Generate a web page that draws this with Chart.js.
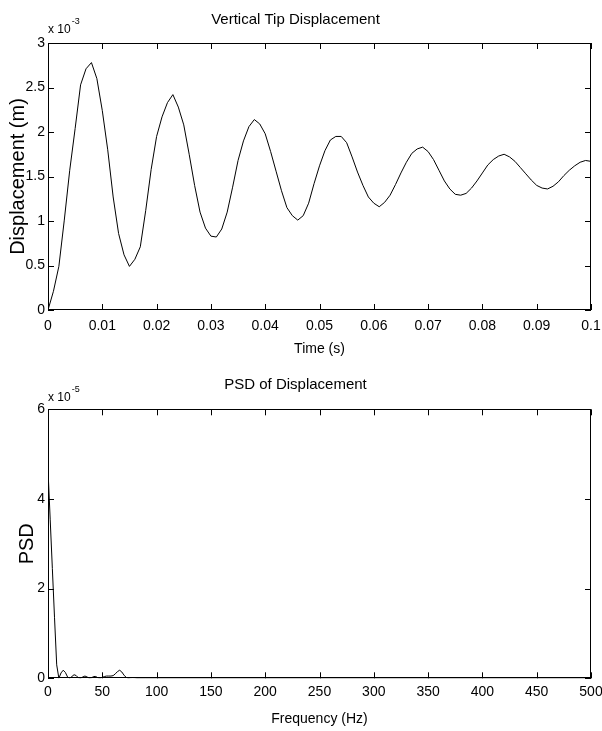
<!DOCTYPE html>
<html>
<head>
<meta charset="utf-8">
<script src="https://cdn.jsdelivr.net/npm/chart.js@4.4.1/dist/chart.umd.min.js"></script>
<style>
  html, body { margin: 0; padding: 0; background: #fff; }
  #wrap { position: relative; width: 602px; height: 731px; }
  canvas { position: absolute; left: 0; }
</style>
</head>
<body>
<div id="wrap">
  <canvas id="dispChart" width="602" height="365" style="top:0"></canvas>
  <canvas id="psdChart" width="602" height="366" style="top:365px"></canvas>
</div>
<script>
// time axis (s)
const timeS = [
  0, 0.001, 0.002, 0.003, 0.004, 0.005, 0.006, 0.007, 0.008, 0.009,
  0.010, 0.011, 0.012, 0.013, 0.014, 0.015, 0.016, 0.017, 0.018, 0.019,
  0.020, 0.021, 0.022, 0.023, 0.024, 0.025, 0.026, 0.027, 0.028, 0.029,
  0.030, 0.031, 0.032, 0.033, 0.034, 0.035, 0.036, 0.037, 0.038, 0.039,
  0.040, 0.041, 0.042, 0.043, 0.044, 0.045, 0.046, 0.047, 0.048, 0.049,
  0.050, 0.051, 0.052, 0.053, 0.054, 0.055, 0.056, 0.057, 0.058, 0.059,
  0.060, 0.061, 0.062, 0.063, 0.064, 0.065, 0.066, 0.067, 0.068, 0.069,
  0.070, 0.071, 0.072, 0.073, 0.074, 0.075, 0.076, 0.077, 0.078, 0.079,
  0.080, 0.081, 0.082, 0.083, 0.084, 0.085, 0.086, 0.087, 0.088, 0.089,
  0.090, 0.091, 0.092, 0.093, 0.094, 0.095, 0.096, 0.097, 0.098, 0.099,
  0.100
];
// vertical tip displacement, in units of 1e-3 m
const tipDisp = [
  0, 0.21, 0.49, 1.01, 1.57, 2.04, 2.53, 2.71, 2.78, 2.60,
  2.24, 1.80, 1.27, 0.86, 0.62, 0.49, 0.57, 0.71, 1.12, 1.58,
  1.95, 2.17, 2.33, 2.42, 2.28, 2.08, 1.75, 1.40, 1.10, 0.92,
  0.83, 0.82, 0.91, 1.10, 1.38, 1.68, 1.90, 2.06, 2.14, 2.09,
  1.98, 1.78, 1.56, 1.34, 1.15, 1.06, 1.01, 1.06, 1.20, 1.42,
  1.62, 1.79, 1.91, 1.95, 1.95, 1.88, 1.72, 1.55, 1.40, 1.27,
  1.20, 1.16, 1.21, 1.29, 1.41, 1.54, 1.66, 1.76, 1.81, 1.83,
  1.78, 1.69, 1.57, 1.45, 1.36, 1.30, 1.29, 1.31, 1.37, 1.45,
  1.54, 1.63, 1.69, 1.73, 1.75, 1.72, 1.67, 1.60, 1.53, 1.46,
  1.40, 1.37, 1.36, 1.39, 1.44, 1.51, 1.57, 1.62, 1.66, 1.68,
  1.67
];

// frequency axis (Hz)
const freqHz = [
  0, 2, 4, 6, 8, 10, 12, 14, 16, 18, 20, 22, 24, 26, 28, 30, 32, 34, 36, 38,
  40, 42, 44, 46, 48, 50, 52, 54, 56, 58, 60, 62, 64, 66, 68, 70, 72, 74, 76, 78,
  80, 82, 84, 90, 100, 150, 200, 250, 300, 350, 400, 450, 500
];
// PSD of displacement, in units of 1e-5
const psdVal = [
  4.65, 3.55, 2.45, 1.35, 0.30, 0.00, 0.12, 0.18, 0.13, 0.03, 0.00, 0.04, 0.08, 0.06, 0.01, 0.00, 0.03, 0.05, 0.03, 0.00,
  0.01, 0.04, 0.04, 0.01, 0.00, 0.02, 0.04, 0.05, 0.05, 0.05, 0.06, 0.10, 0.15, 0.18, 0.14, 0.07, 0.02, 0.00, 0.01, 0.015,
  0.01, 0.00, 0.00, 0.00, 0.00, 0.00, 0.00, 0.00, 0.00, 0.00, 0.00, 0.00, 0.00
];

const timeTicks = ['0', '0.01', '0.02', '0.03', '0.04', '0.05', '0.06', '0.07', '0.08', '0.09', '0.1'];
const dispTicks = ['0', '0.5', '1', '1.5', '2', '2.5', '3'];
const freqTicks = ['0', '50', '100', '150', '200', '250', '300', '350', '400', '450', '500'];
const psdTicks = ['0', '2', '4', '6'];

const FONT = '"Liberation Sans", Arial, Helvetica, sans-serif';

// matlab-ish box with inward ticks + "x 10^n" exponent
const boxTicks = {
  id: 'boxTicks',
  afterDraw(chart, args, opts) {
    const { ctx, chartArea: a, scales: { x, y } } = chart;
    const len = 6;
    ctx.save();
    ctx.strokeStyle = '#000';
    ctx.lineWidth = 1;
    ctx.beginPath();
    x.ticks.forEach(t => {
      const px = Math.round(x.getPixelForValue(t.value)) + 0.5;
      ctx.moveTo(px, a.bottom); ctx.lineTo(px, a.bottom - len);
      ctx.moveTo(px, a.top); ctx.lineTo(px, a.top + len);
    });
    y.ticks.forEach(t => {
      const py = Math.round(y.getPixelForValue(t.value)) + 0.5;
      ctx.moveTo(a.left, py); ctx.lineTo(a.left + len, py);
      ctx.moveTo(a.right, py); ctx.lineTo(a.right - len, py);
    });
    ctx.stroke();
    ctx.strokeRect(Math.round(a.left) + 0.5, Math.round(a.top) + 0.5,
                   Math.round(a.width) - 1, Math.round(a.height) - 1);

    ctx.fillStyle = '#000';
    ctx.textAlign = 'left';
    ctx.textBaseline = 'alphabetic';
    ctx.font = '12px ' + FONT;
    ctx.fillText('x 10', a.left, a.top - opts.base);
    const w = ctx.measureText('x 10').width;
    ctx.font = '9px ' + FONT;
    ctx.fillText(opts.exp, a.left + w + 1, a.top - opts.sup);
    ctx.restore();
  }
};

function makeChart(id, cfg) {
  return new Chart(document.getElementById(id), {
    type: 'line',
    data: {
      datasets: [{
        data: cfg.xs.map((v, i) => ({ x: v, y: cfg.ys[i] })),
        borderColor: '#000',
        borderWidth: 1,
        pointRadius: 0,
        tension: 0,
        fill: false
      }]
    },
    options: {
      responsive: false,
      animation: false,
      layout: { padding: { left: 0, right: 11, top: 0, bottom: 0 } },
      plugins: {
        legend: { display: false },
        tooltip: { enabled: false },
        title: {
          display: true,
          text: cfg.title,
          color: '#000',
          font: { family: FONT, size: 15, weight: 'normal' },
          padding: cfg.titlePad
        },
        boxTicks: cfg.exp
      },
      scales: {
        x: {
          type: 'linear',
          min: cfg.xMin, max: cfg.xMax,
          grid: { display: false, drawTicks: false },
          border: { display: false },
          ticks: {
            stepSize: cfg.xStep,
            padding: cfg.xTickPad,
            color: '#000',
            maxRotation: 0,
            autoSkip: false,
            font: { family: FONT, size: 14 },
            callback: (v, i) => cfg.xLabels[i]
          },
          title: {
            display: true,
            text: cfg.xTitle,
            color: '#000',
            font: { family: FONT, size: 14 },
            padding: { top: 0, bottom: cfg.xTitlePad }
          },
          afterFit: s => { s.height = cfg.xHeight; s.paddingLeft = 0; s.paddingRight = 0; }
        },
        y: {
          min: cfg.yMin, max: cfg.yMax,
          grid: { display: false, drawTicks: false },
          border: { display: false },
          ticks: {
            stepSize: cfg.yStep,
            padding: 3,
            color: '#000',
            autoSkip: false,
            font: { family: FONT, size: 14 },
            callback: (v, i) => cfg.yLabels[i]
          },
          title: {
            display: true,
            text: cfg.yTitle,
            color: '#000',
            font: { family: FONT, size: 20 },
            padding: { top: cfg.yTitlePad, bottom: 0 }
          },
          afterFit: s => { s.width = 48; s.paddingTop = 0; s.paddingBottom = 0; }
        }
      }
    },
    plugins: [boxTicks]
  });
}

makeChart('dispChart', {
  xs: timeS, ys: tipDisp,
  title: 'Vertical Tip Displacement',
  titlePad: { top: 10.5, bottom: 14.5 },
  xMin: 0, xMax: 0.1, xStep: 0.01, xLabels: timeTicks,
  yMin: 0, yMax: 3, yStep: 0.5, yLabels: dispTicks,
  xTitle: 'Time (s)', xTitlePad: 7.6, xTickPad: 8, xHeight: 55,
  yTitle: 'Displacement (m)', yTitlePad: 6,
  exp: { exp: '-3', base: 10, sup: 19 }
});

makeChart('psdChart', {
  xs: freqHz, ys: psdVal,
  title: 'PSD of Displacement',
  titlePad: { top: 10.5, bottom: 15.8 },
  xMin: 0, xMax: 500, xStep: 50, xLabels: freqTicks,
  yMin: 0, yMax: 6, yStep: 2, yLabels: psdTicks,
  xTitle: 'Frequency (Hz)', xTitlePad: 3.6, xTickPad: 5.8, xHeight: 52.7,
  yTitle: 'PSD', yTitlePad: 15.5,
  exp: { exp: '-5', base: 8, sup: 17 }
});
</script>
</body>
</html>
